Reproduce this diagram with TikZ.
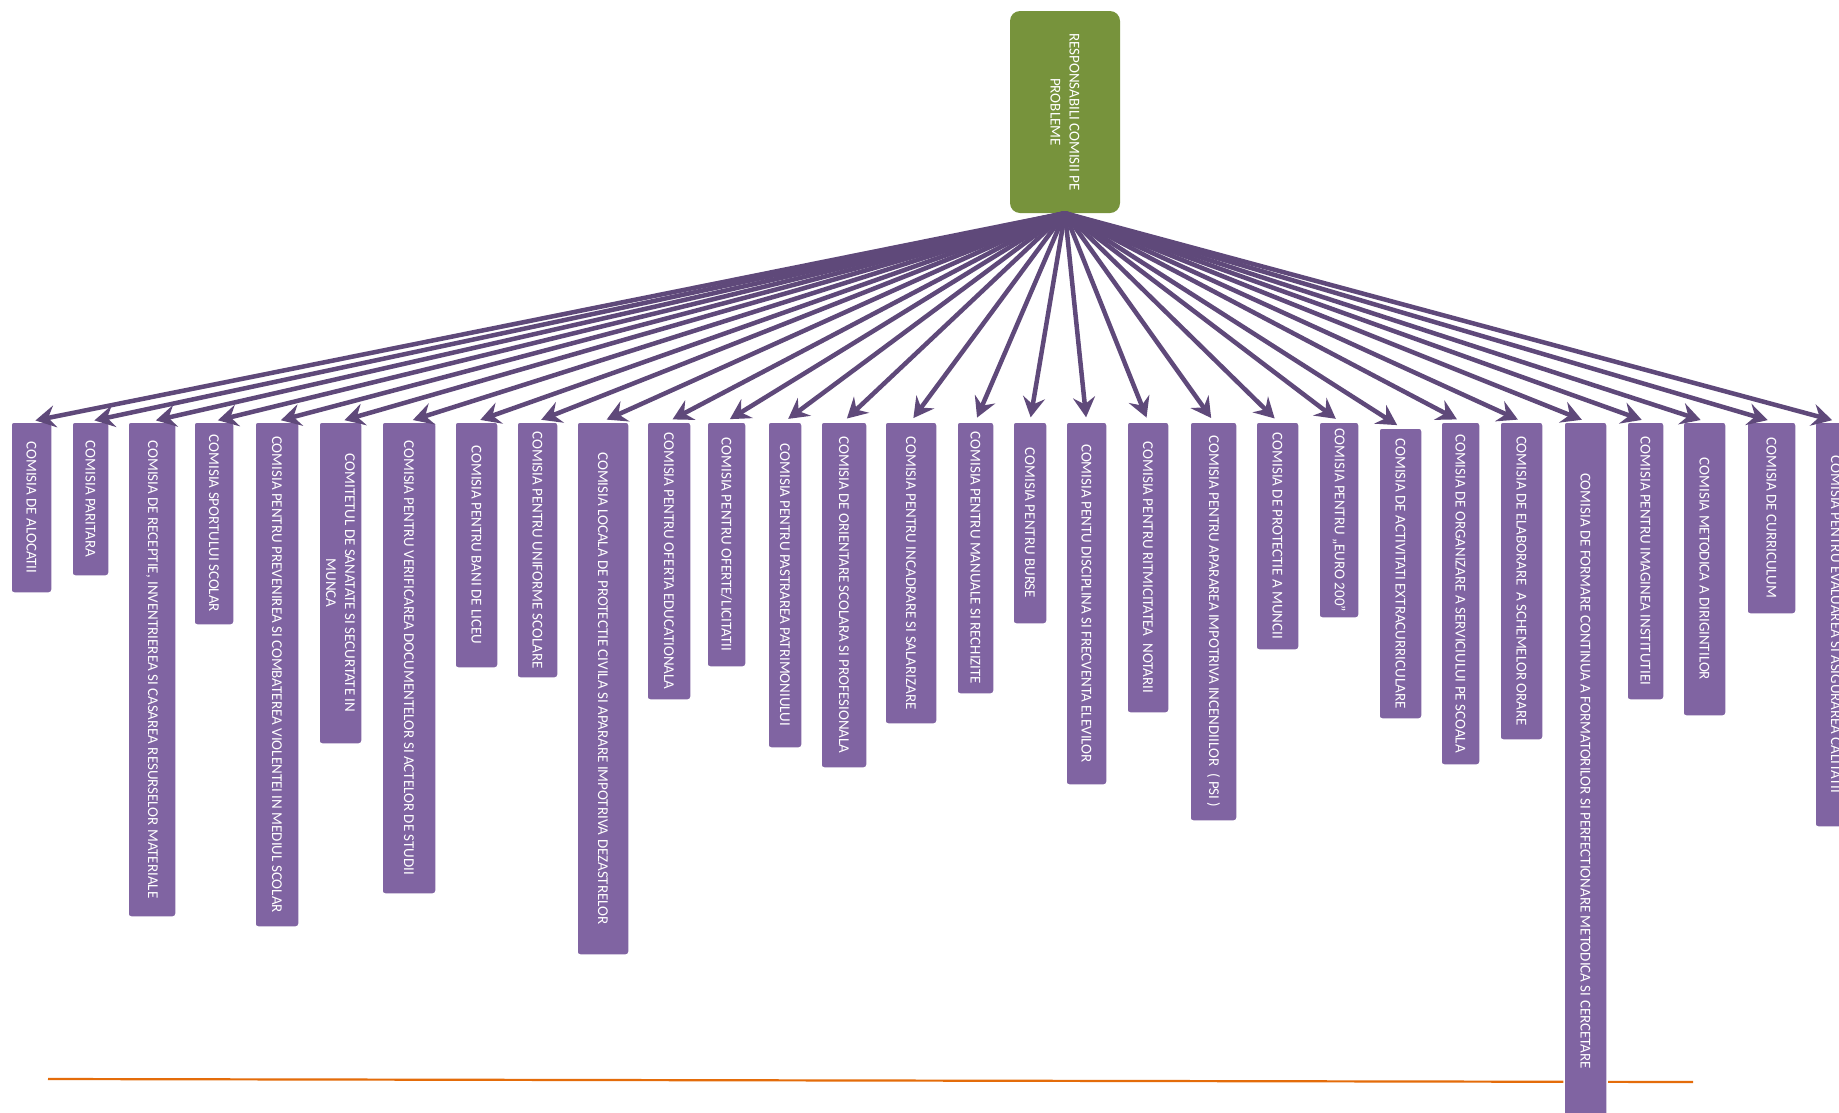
\documentclass[tikz,border=0pt]{standalone}
\usepackage{fontspec}
\setmainfont{Carlito}
\usetikzlibrary{arrows.meta}
\definecolor{boxpurple}{HTML}{8064A2}
\definecolor{arrowpurple}{HTML}{5F497A}
\definecolor{topgreen}{HTML}{77933C}
\definecolor{lineorange}{HTML}{E46C0A}
\begin{document}
\begin{tikzpicture}[x=1pt,y=-1pt,
  cbox/.style={rectangle, rounded corners=3pt, fill=boxpurple, draw=white, line width=1.5pt,
    text=white, font=\fontsize{15}{19}\selectfont, align=center, rotate=-90, inner sep=2pt},
  topbox/.style={rectangle, rounded corners=10pt, fill=topgreen, text=white,
    font=\fontsize{15}{19}\selectfont, align=center, rotate=-90, inner sep=2pt},
  link/.style={draw=arrowpurple, line width=4.5pt,
    -{Stealth[length=20pt,width=22pt,inset=7pt]}, shorten >=4pt},
  baseline/.style={draw=lineorange, line width=2.2pt}]
\useasboundingbox (0,0) rectangle (1839,1112);
\clip (0,0) rectangle (1839,1112);
\fill[white] (0,0) rectangle (1839,1112);

\coordinate (ol) at (48,1079);
\coordinate (or) at (1693,1082);
\draw[baseline] (ol) -- (or);

\node[topbox, minimum width=202pt, minimum height=110pt] (top) at (1065,112) {RESPONSABILI COMISII PE\\PROBLEME};

\node[cbox, minimum width=171pt, minimum height=41pt] (b1) at (31.5,507.5) {COMISIA DE ALOCATII};
\node[cbox, minimum width=154pt, minimum height=37pt] (b2) at (90.5,499) {COMISIA PARITARA};
\node[cbox, minimum width=495pt, minimum height=48pt] (b3) at (152,669.5) {COMISIA DE RECEPTIE, INVENTRIEREA SI CASAREA RESURSELOR MATERIALE};
\node[cbox, minimum width=203pt, minimum height=40pt] (b4) at (214,523.5) {COMISIA SPORTULUI SCOLAR};
\node[cbox, minimum width=505pt, minimum height=44pt] (b5) at (277,674.5) {COMISIA PENTRU PREVENIREA SI COMBATEREA VIOLENTEI IN MEDIUL SCOLAR};
\node[cbox, minimum width=322pt, minimum height=43pt] (b6) at (340.5,583) {COMITETUL DE SANATATE SI SECURTATE IN\\MUNCA};
\node[cbox, minimum width=472pt, minimum height=54pt] (b7) at (409,658) {COMISIA PENTRU VERIFICAREA DOCUMENTELOR SI ACTELOR DE STUDII};
\node[cbox, minimum width=246pt, minimum height=43pt] (b8) at (476.5,545) {COMISIA PENTRU BANI DE LICEU};
\node[cbox, minimum width=256pt, minimum height=41pt] (b9) at (537.5,550) {COMISIA PENTRU UNIFORME SCOLARE};
\node[cbox, minimum width=533pt, minimum height=52pt] (b10) at (603,688.5) {COMISIA LOCALA DE PROTECTIE CIVILA SI APARARE IMPOTRIVA DEZASTRELOR};
\node[cbox, minimum width=278pt, minimum height=44pt] (b11) at (669,561) {COMISIA PENTRU OFERTA EDUCATIONALA};
\node[cbox, minimum width=245pt, minimum height=39pt] (b12) at (726.5,544.5) {COMISIA PENTRU OFERTE/LICITATII};
\node[cbox, minimum width=326pt, minimum height=34pt] (b13) at (785,585) {COMISIA PENTRU PASTRAREA PATRIMONIULUI};
\node[cbox, minimum width=346pt, minimum height=46pt] (b14) at (844,595) {COMISIA DE ORIENTARE SCOLARA SI PROFESIONALA};
\node[cbox, minimum width=302pt, minimum height=52pt] (b15) at (911,573) {COMISIA PENTRU INCADRARE SI SALARIZARE};
\node[cbox, minimum width=272pt, minimum height=37pt] (b16) at (975.5,558) {COMISIA PENTRU MANUALE SI RECHIZITE};
\node[cbox, minimum width=202pt, minimum height=34pt] (b17) at (1030,523) {COMISIA PENTRU BURSE};
\node[cbox, minimum width=363pt, minimum height=41pt] (b18) at (1086.5,603.5) {COMISIA PENTU DISCIPLINA SI FRECVENTA ELEVILOR};
\node[cbox, minimum width=291pt, minimum height=42pt] (b19) at (1148,567.5) {COMISIA PENTRU RITMICITATEA\ \ NOTARII};
\node[cbox, minimum width=399pt, minimum height=47pt] (b20) at (1213.5,621.5) {COMISIA PENTRU APARAREA IMPOTRIVA INCENDIILOR\ \ ( PSI )};
\node[cbox, minimum width=228pt, minimum height=43pt] (b21) at (1277.5,536) {COMISIA DE PROTECTIE A MUNCII};
\node[cbox, minimum width=196pt, minimum height=40pt] (b22) at (1339,520) {COMISIA PENTRU „EURO 200”};
\node[cbox, minimum width=291pt, minimum height=43pt] (b23) at (1400.5,573.5) {COMISIA DE ACTIVITATI EXTRACURRICULARE};
\node[cbox, minimum width=343pt, minimum height=39pt] (b24) at (1460.5,593.5) {COMISIA DE ORGANIZARE A SERVICIULUI PE SCOALA};
\node[cbox, minimum width=318pt, minimum height=43pt] (b25) at (1521.5,581) {COMISIA DE ELABORARE\ \ A SCHEMELOR ORARE};
\node[cbox, minimum width=698pt, minimum height=43pt] (b26) at (1585.5,771) {COMISIA DE FORMARE CONTINUA A FORMATORILOR SI PERFECTIONARE METODICA SI CERCETARE};
\node[cbox, minimum width=278pt, minimum height=37pt] (b27) at (1645.5,561) {COMISIA PENTRU IMAGINEA INSTITUTIEI};
\node[cbox, minimum width=294pt, minimum height=43pt] (b28) at (1704.5,569) {COMISIA METODICA A DIRIGINTILOR};
\node[cbox, minimum width=192pt, minimum height=49pt] (b29) at (1771.5,518) {COMISIA DE CURRICULUM};
\node[cbox, minimum width=405pt, minimum height=42pt] (b30) at (1836,624.5) {COMISIA PENTRU EVALUAREA SI ASIGURAREA CALITATII};

\foreach \i in {1,...,30}
  \draw[link] (top.east) -- (b\i.west);
\end{tikzpicture}
\end{document}
